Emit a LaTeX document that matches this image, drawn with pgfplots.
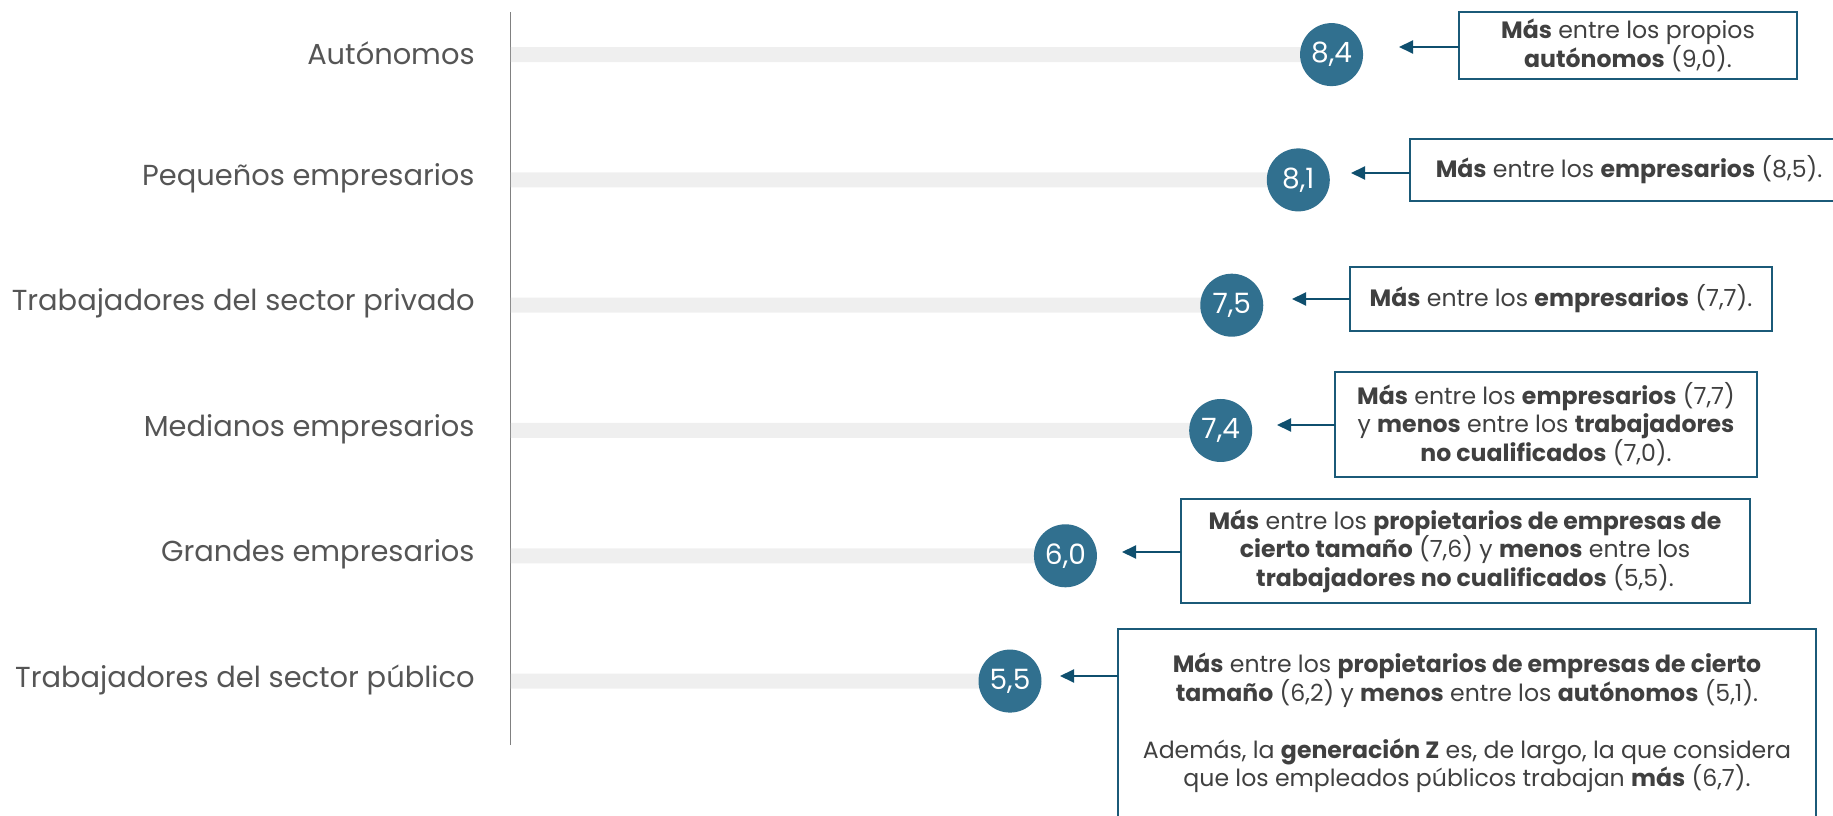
\documentclass[border=0pt]{standalone}
\usepackage{pgfplots}
\pgfplotsset{compat=1.18}
\usepackage{fontspec}
\setmainfont{Poppins}
\usetikzlibrary{arrows.meta}
\definecolor{barcol}{HTML}{EFEFEF}
\definecolor{circcol}{HTML}{31708F}
\definecolor{arrcol}{HTML}{0F4F6E}
\definecolor{boxcol}{HTML}{1B5A78}
\definecolor{labelgray}{HTML}{555555}
\definecolor{textgray}{HTML}{404040}
\definecolor{axisgray}{HTML}{808080}
\newcommand{\boxfont}{\fontsize{11.8}{14.3}\selectfont}
\begin{document}
\begin{tikzpicture}
\path[use as bounding box] (0,0) rectangle (916.5pt,407.5pt);
\begin{axis}[
  at={(255.5pt,35pt)}, anchor=south west,
  scale only axis, width=499pt, height=366.5pt,
  xmin=1, xmax=10, ymin=0.49, ymax=6.34,
  axis x line=none, axis y line*=left,
  y axis line style={-, draw=axisgray, line width=0.5pt},
  ytick={1,2,3,4,5,6},
  yticklabels={Trabajadores del sector público, Grandes empresarios, Medianos empresarios, Trabajadores del sector privado, Pequeños empresarios, Autónomos},
  major tick length=0pt,
  yticklabel style={font=\fontsize{14.45}{18}\selectfont, text=labelgray, anchor=east, inner sep=0pt, xshift=-18pt, yshift=0.8pt},
]
\addplot[xbar, bar width=7.5pt, fill=barcol, draw=none,
  point meta=x,
  nodes near coords={\pgfmathprintnumber[use comma, fixed, fixed zerofill, precision=1, assume math mode=true]{\pgfplotspointmeta}},
  every node near coord/.append style={anchor=center, circle, fill=circcol, text=white, minimum size=31.5pt, inner sep=0pt, font=\fontsize{14}{14}\selectfont},
] coordinates {(8.4,6) (8.1,5) (7.5,4) (7.4,3) (6.0,2) (5.5,1)};
\end{axis}
\begin{scope}[x=0.5pt, y=-0.5pt, shift={(0pt,407.5pt)}]
  \tikzset{arr/.style={draw=arrcol, line width=1pt, -{Triangle[length=7pt,width=6.5pt]}},
           bx/.style={draw=boxcol, line width=1pt},
           tx/.style={text=textgray, align=center, font=\boxfont, inner sep=0pt}}
  % box 1
  \draw[bx] (1459,12) rectangle (1797,79);
  \node[tx] at (1628,45.5) {\textbf{Más} entre los propios\\\textbf{autónomos} (9,0).};
  \draw[arr] (1459,47) -- (1399,47);
  % box 2
  \draw[bx] (1410,139) rectangle (1840,201);
  \node[tx] at (1629,170) {\textbf{Más} entre los \textbf{empresarios} (8,5).};
  \draw[arr] (1410,173) -- (1351,173);
  % box 3
  \draw[bx] (1350,267) rectangle (1772,331);
  \node[tx] at (1561,299) {\textbf{Más} entre los \textbf{empresarios} (7,7).};
  \draw[arr] (1350,299) -- (1292,299);
  % box 4
  \draw[bx] (1335,372) rectangle (1757,477);
  \node[tx] at (1546,424) {\textbf{Más} entre los \textbf{empresarios} (7,7)\\y \textbf{menos} entre los \textbf{trabajadores}\\\textbf{no cualificados} (7,0).};
  \draw[arr] (1335,425) -- (1277,425);
  % box 5
  \draw[bx] (1181,499) rectangle (1750,603);
  \node[tx] at (1465,551) {\textbf{Más} entre los \textbf{propietarios de empresas de}\\\textbf{cierto tamaño} (7,6) y \textbf{menos} entre los\\\textbf{trabajadores no cualificados} (5,5).};
  \draw[arr] (1181,552) -- (1122,552);
  % box 6
  \draw[bx] (1118,629) rectangle (1816,850);
  \node[tx] at (1467,723) {\textbf{Más} entre los \textbf{propietarios de empresas de cierto}\\\textbf{tamaño} (6,2) y \textbf{menos} entre los \textbf{autónomos} (5,1).\\[14.3pt]Además, la \textbf{generación Z} es, de largo, la que considera\\que los empleados públicos trabajan \textbf{más} (6,7).};
  \draw[arr] (1118,676) -- (1060,676);
\end{scope}
\end{tikzpicture}
\end{document}
